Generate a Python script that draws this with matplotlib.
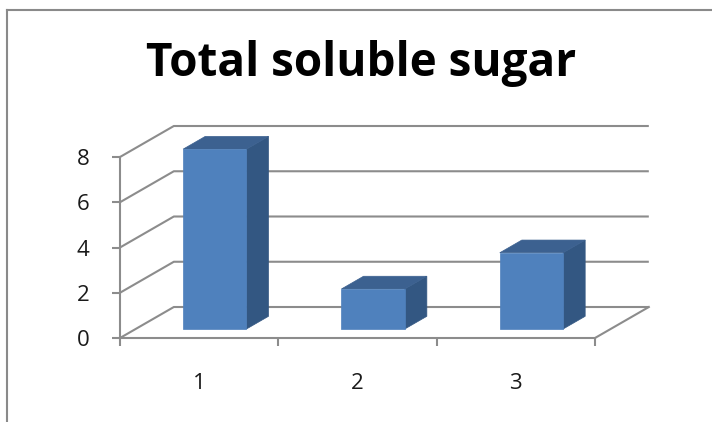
import matplotlib
matplotlib.use("Agg")
import matplotlib.pyplot as plt
from matplotlib.patches import Polygon
from matplotlib.lines import Line2D

# Chart data
categories = ["1", "2", "3"]
values = [7.95, 1.77, 3.37]
y_ticks = [0, 2, 4, 6, 8]
title = "Total soluble sugar"

# Colours
FRONT = "#4f81bd"
SIDE = "#335782"
TOP = "#3c6190"
GRID = "#8c8c8c"
TEXT = "#1a1a1a"

# Oblique projection of the 3-D box (depth offsets in data units)
D_X = 0.34      # category units
D_Y = 1.37      # value units
BAR_W = 0.40
DEPTH_FRONT = 0.29
DEPTH_BACK = 0.70

W, H, DPI = 712, 422, 100
fig = plt.figure(figsize=(W / DPI, H / DPI), dpi=DPI)
fig.patch.set_facecolor("white")

# pixel scale of the plotting area
PX_PER_CAT = 158.33
PX_PER_VAL = 22.625
x0_px, y0_px = 120, 338
xmin, xmax = 0.5, 3.5 + D_X
ymin, ymax = 0, 8 + D_Y
ax_w = (xmax - xmin) * PX_PER_CAT
ax_h = (ymax - ymin) * PX_PER_VAL
ax = fig.add_axes([x0_px / W, (H - y0_px) / H, ax_w / W, ax_h / H])
ax.set_xlim(xmin, xmax)
ax.set_ylim(ymin, ymax)
ax.patch.set_visible(False)

lw = 1.5
# back wall gridlines with their diagonal floor/side links
for v in y_ticks:
    ax.plot([0.5, 0.5 + D_X, 3.5 + D_X], [v, v + D_Y, v + D_Y],
            color=GRID, lw=lw, solid_capstyle="butt", clip_on=False, zorder=1)
# right edge of the floor
ax.plot([3.5, 3.5 + D_X], [0, D_Y], color=GRID, lw=lw, clip_on=False, zorder=1)

# bars as prisms
n = len(values)
for i, v in enumerate(values):
    c = i + 1
    fx = DEPTH_FRONT * D_X
    fy = DEPTH_FRONT * D_Y
    bx = DEPTH_BACK * D_X
    by = DEPTH_BACK * D_Y
    l, r = c - BAR_W / 2, c + BAR_W / 2
    front = [(l + fx, fy), (r + fx, fy), (r + fx, v + fy), (l + fx, v + fy)]
    side = [(r + fx, fy), (r + bx, by), (r + bx, v + by), (r + fx, v + fy)]
    top = [(l + fx, v + fy), (r + fx, v + fy), (r + bx, v + by), (l + bx, v + by)]
    ax.add_patch(Polygon(side, closed=True, fc=SIDE, ec=SIDE, lw=0.5, zorder=3, clip_on=False))
    ax.add_patch(Polygon(top, closed=True, fc=TOP, ec=TOP, lw=0.5, zorder=3, clip_on=False))
    ax.add_patch(Polygon(front, closed=True, fc=FRONT, ec=FRONT, lw=0.5, zorder=4, clip_on=False))

# axes lines and ticks
for s in ["top", "right"]:
    ax.spines[s].set_visible(False)
ax.spines["left"].set_bounds(0, 8)
ax.spines["bottom"].set_bounds(0.5, 3.5)
for s in ["left", "bottom"]:
    ax.spines[s].set_color(GRID)
    ax.spines[s].set_linewidth(lw)
    ax.spines[s].set_zorder(2)

font = ["Open Sans", "DejaVu Sans"]
ax.set_yticks(y_ticks)
ax.set_yticklabels([str(t) for t in y_ticks], family=font, fontsize=16, color=TEXT)
ax.tick_params(axis="y", length=6, width=lw, color=GRID, pad=16)

ax.set_xticks(range(1, n + 1))
ax.set_xticklabels(categories, family=font, fontsize=16, color=TEXT)
ax.set_xticks([0.5 + k for k in range(n + 1)], minor=True)
ax.tick_params(axis="x", which="major", length=0, pad=25)
ax.tick_params(axis="x", which="minor", length=6, width=lw, color=GRID)

fig.text(361 / W, 1 - 76 / H, title, ha="center", va="baseline",
         family=font, fontweight="bold", fontsize=33, color="black")

# chart frame
frame_kw = dict(color="#8a8a8a", lw=1.5, transform=fig.transFigure)
fig.add_artist(Line2D([7 / W, 7 / W], [0, 1 - 10 / H], **frame_kw))
fig.add_artist(Line2D([7 / W, 1], [1 - 10 / H, 1 - 10 / H], **frame_kw))

fig.savefig("out.png", dpi=DPI, facecolor="white")
